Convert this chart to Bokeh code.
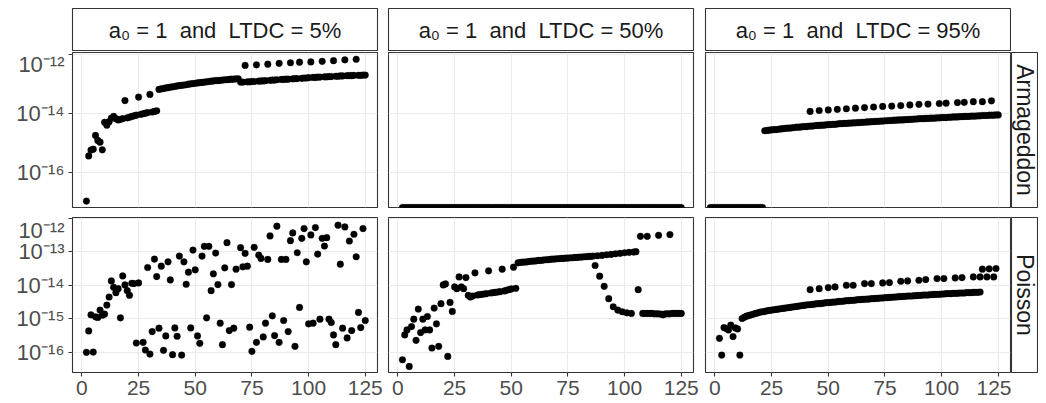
import math
from bokeh.plotting import figure
from bokeh.models import (Range1d, FixedTicker, CustomJSTickFormatter, Grid,
                          LogScale, LogAxis, LinearAxis)
from bokeh.layouts import row, column
from bokeh.embed import file_html
from bokeh.resources import INLINE
from bokeh.core.properties import value

# ---------------------------------------------------------------- labels
col_labels = ["a\u2080 = 1 \u00a0and\u00a0 LTDC = 5%",
              "a\u2080 = 1 \u00a0and\u00a0 LTDC = 50%",
              "a\u2080 = 1 \u00a0and\u00a0 LTDC = 95%"]
row_labels = ["Armageddon", "Poisson"]

x_ticks = [0, 25, 50, 75, 100, 125]
row1_ticks = [1e-16, 1e-14, 1e-12]
row1_tick_labels = ["10\u207b\u00b9\u2076", "10\u207b\u00b9\u2074", "10\u207b\u00b9\u00b2"]
row2_ticks = [1e-16, 1e-15, 1e-14, 1e-13, 1e-12]
row2_tick_labels = ["10\u207b\u00b9\u2076", "10\u207b\u00b9\u2075", "10\u207b\u00b9\u2074",
                    "10\u207b\u00b9\u00b3", "10\u207b\u00b9\u00b2"]

# ---------------------------------------------------------------- data (log10 of the plotted value)
# Armageddon, LTDC 5%  (x = 2..125)
arm_5_x = list(range(2, 126))
arm_5_log10y = [
    -16.99, -15.45, -15.25, -15.22, -14.75, -14.92, -14.98, -15.24, -14.30, -14.40,
    -14.28, -14.16, -14.10, -14.18, -14.22, -14.20, -14.18, -13.56, -14.15, -14.13,
    -14.10, -14.08, -14.06, -13.44, -14.03, -14.01, -13.99, -13.97, -13.35, -13.95,
    -13.93, -13.91, -13.18, -13.16, -13.15, -13.13, -13.12, -13.10, -13.09, -13.08,
    -13.06, -13.05, -13.04, -13.03, -13.02, -13.00, -12.99, -12.98, -12.97, -12.96,
    -12.95, -12.94, -12.93, -12.92, -12.91, -12.90, -12.89, -12.88, -12.88, -12.87,
    -12.86, -12.85, -12.85, -12.84, -12.83, -12.83, -12.82, -12.82, -12.93, -12.93,
    -12.36, -12.92, -12.92, -12.91, -12.91, -12.34, -12.90, -12.89, -12.89, -12.88,
    -12.32, -12.87, -12.86, -12.86, -12.85, -12.29, -12.84, -12.84, -12.83, -12.83,
    -12.27, -12.82, -12.81, -12.81, -12.25, -12.80, -12.79, -12.79, -12.78, -12.24,
    -12.77, -12.77, -12.76, -12.76, -12.22, -12.75, -12.75, -12.74, -12.74, -12.20,
    -12.73, -12.73, -12.72, -12.72, -12.17, -12.71, -12.71, -12.71, -12.70, -12.15,
    -12.70, -12.70, -12.69, -12.69]

# Armageddon, LTDC 50%: every value is 0 (drawn at the panel floor)
arm_50_x = list(range(2, 126))
arm_50_y_is_zero = [True] * len(arm_50_x)

# Armageddon, LTDC 95%
arm_95_zero_x = list(range(-2, 22))
arm_95_x = list(range(22, 126))
arm_95_log10y = [
    -14.59, -14.58, -14.57, -14.56, -14.55, -14.55, -14.54, -14.53, -14.52, -14.51,
    -14.50, -14.50, -14.49, -14.48, -14.47, -14.47, -14.46, -14.45, -14.45, -14.44,
    -14.43, -14.43, -14.42, -14.41, -14.41, -14.40, -14.40, -14.39, -14.38, -14.38,
    -14.37, -14.37, -14.36, -14.35, -14.35, -14.34, -14.34, -14.33, -14.33, -14.32,
    -14.32, -14.31, -14.31, -14.30, -14.30, -14.29, -14.29, -14.28, -14.28, -14.27,
    -14.27, -14.26, -14.26, -14.25, -14.25, -14.24, -14.24, -14.23, -14.23, -14.22,
    -14.22, -14.22, -14.21, -14.21, -14.20, -14.20, -14.19, -14.19, -14.18, -14.18,
    -14.18, -14.17, -14.17, -14.16, -14.16, -14.16, -14.15, -14.15, -14.14, -14.14,
    -14.14, -14.13, -14.13, -14.12, -14.12, -14.12, -14.11, -14.11, -14.10, -14.10,
    -14.10, -14.09, -14.09, -14.09, -14.08, -14.08, -14.07, -14.07, -14.07, -14.06,
    -14.06, -14.06, -14.05, -14.05]
arm_95_upper_x = [42, 46, 50, 54, 58, 62, 66, 70, 74, 78, 82, 86, 90, 94, 99, 102,
                  107, 110, 114, 118, 122]
arm_95_upper_log10y = [-13.93, -13.90, -13.88, -13.86, -13.84, -13.82, -13.80, -13.78,
                       -13.76, -13.75, -13.73, -13.71, -13.69, -13.68, -13.66, -13.65,
                       -13.63, -13.62, -13.60, -13.60, -13.57]

# Poisson, LTDC 5%
poi_5_x = [
    2, 3, 4, 5, 6, 7, 8, 9, 10, 11,
    12, 13, 14, 15, 16, 17, 18, 19, 20, 21,
    22, 23, 24, 25, 27, 28, 29, 30, 31, 32,
    33, 34, 35, 36, 37, 38, 39, 40, 41, 42,
    43, 44, 45, 46, 47, 48, 49, 50, 51, 52,
    53, 54, 55, 56, 57, 58, 59, 60, 61, 62,
    63, 64, 65, 66, 67, 68, 70, 71, 72, 73,
    74, 75, 76, 77, 78, 79, 80, 81, 82, 83,
    84, 85, 86, 87, 88, 89, 90, 91, 92, 93,
    94, 95, 96, 97, 98, 99, 100, 101, 102, 103,
    104, 105, 106, 107, 108, 109, 110, 111, 112, 113,
    114, 115, 116, 117, 118, 119, 120, 121, 122, 123,
    124, 125]
poi_5_log10y = [
    -16.00, -15.36, -14.88, -15.99, -14.94, -14.96, -14.74, -14.89, -14.86, -14.59,
    -14.35, -13.87, -14.06, -14.22, -14.10, -14.97, -13.72, -13.99, -14.16, -14.30,
    -13.94, -13.95, -15.72, -13.93, -15.70, -15.93, -13.47, -16.05, -15.38, -13.22,
    -13.74, -15.28, -13.43, -15.94, -15.51, -13.30, -13.84, -16.07, -15.27, -15.52,
    -13.13, -16.08, -13.30, -13.97, -13.61, -15.27, -12.95, -13.54, -15.51, -15.73,
    -13.13, -12.84, -14.97, -12.84, -14.16, -13.66, -13.04, -13.98, -15.13, -15.77,
    -13.48, -12.73, -15.35, -13.98, -15.28, -13.52, -12.88, -13.45, -13.05, -13.43,
    -15.25, -15.97, -12.87, -15.70, -13.10, -13.20, -15.54, -15.13, -13.23, -12.53,
    -14.91, -15.50, -12.24, -15.70, -13.23, -15.05, -13.23, -15.38, -12.67, -12.44,
    -15.82, -13.03, -14.66, -12.60, -12.31, -13.30, -15.15, -12.50, -15.13, -12.28,
    -13.07, -15.01, -12.60, -12.83, -12.58, -15.01, -15.11, -15.48, -15.77, -12.21,
    -13.37, -15.28, -12.26, -15.57, -12.68, -15.35, -12.48, -13.15, -14.81, -15.26,
    -12.31, -15.05]

# Poisson, LTDC 50%
poi_50_x = list(range(2, 126))
poi_50_log10y = [
    -16.22, -15.48, -15.33, -16.42, -15.23, -15.01, -15.64, -14.71, -15.41, -15.01,
    -15.33, -14.93, -15.33, -15.87, -14.68, -15.15, -15.82, -14.55, -13.99, -13.96,
    -16.12, -14.51, -14.78, -14.05, -14.10, -13.75, -14.05, -14.10, -13.77, -14.30,
    -14.35, -14.32, -13.63, -14.29, -14.28, -14.27, -14.26, -14.25, -13.57, -14.23,
    -14.22, -14.21, -14.20, -14.19, -13.52, -14.17, -14.15, -14.13, -14.11, -13.46,
    -14.09, -13.33, -13.32, -13.31, -13.31, -13.30, -13.29, -13.28, -13.28, -13.27,
    -13.26, -13.26, -13.25, -13.24, -13.24, -13.23, -13.22, -13.22, -13.21, -13.21,
    -13.20, -13.20, -13.19, -13.19, -13.18, -13.18, -13.17, -13.17, -13.16, -13.16,
    -13.15, -13.15, -13.14, -13.14, -13.13, -13.41, -13.12, -13.73, -13.11, -14.03,
    -13.09, -14.40, -13.08, -14.64, -13.06, -14.74, -13.05, -14.79, -13.03, -14.82,
    -13.02, -14.84, -13.01, -13.00, -14.13, -12.54, -14.84, -14.84, -14.84, -14.84,
    -14.84, -14.85, -14.85, -14.85, -14.86, -14.88, -14.85, -14.85, -14.85, -14.84,
    -14.84, -14.84, -14.84, -14.84]
poi_50_upper_x = [110, 115, 120]
poi_50_upper_log10y = [-12.54, -12.51, -12.49]

# Poisson, LTDC 95%
poi_95_early_x = list(range(2, 12))
poi_95_early_log10y = [-15.58, -16.08, -15.26, -15.29, -15.33, -15.19, -15.53, -15.27,
                       -15.30, -16.08]
poi_95_x = list(range(12, 118))
poi_95_log10y = [
    -14.99, -14.95, -14.92, -14.90, -14.88, -14.86, -14.84, -14.82, -14.80, -14.79,
    -14.78, -14.76, -14.75, -14.74, -14.73, -14.72, -14.71, -14.70, -14.69, -14.68,
    -14.67, -14.66, -14.65, -14.64, -14.63, -14.62, -14.61, -14.60, -14.59, -14.58,
    -14.58, -14.57, -14.56, -14.55, -14.55, -14.54, -14.53, -14.52, -14.52, -14.51,
    -14.50, -14.50, -14.49, -14.48, -14.48, -14.47, -14.46, -14.46, -14.45, -14.45,
    -14.44, -14.43, -14.43, -14.42, -14.42, -14.41, -14.41, -14.40, -14.40, -14.39,
    -14.39, -14.38, -14.38, -14.37, -14.37, -14.36, -14.36, -14.35, -14.35, -14.34,
    -14.34, -14.33, -14.33, -14.32, -14.32, -14.32, -14.31, -14.31, -14.30, -14.30,
    -14.29, -14.29, -14.29, -14.28, -14.28, -14.27, -14.27, -14.27, -14.26, -14.26,
    -14.25, -14.25, -14.25, -14.24, -14.24, -14.24, -14.23, -14.23, -14.23, -14.22,
    -14.22, -14.22, -14.21, -14.21, -14.21, -14.20]
poi_95_upper_x = [42, 46, 50, 53, 58, 61, 66, 69, 74, 77, 82, 85, 90, 93, 98, 101,
                  106, 109, 114, 117, 120, 123, 118, 121, 124]
poi_95_upper_log10y = [-14.13, -14.10, -14.07, -14.05, -14.00, -14.00, -13.95, -13.95,
                       -13.93, -13.92, -13.88, -13.87, -13.85, -13.83, -13.80, -13.80,
                       -13.78, -13.77, -13.75, -13.75, -13.75, -13.75, -13.52, -13.51,
                       -13.50]

# ---------------------------------------------------------------- styling / layout
FONT = "Liberation Sans"
BORDER = "#333333"
GRID = "#EBEBEB"
TICK_TEXT = "#4D4D4D"
STRIP_TEXT = "#1A1A1A"

X_LIM = (-4.15, 130.4)
ROW1_LOG_LIM = (-17.21, -11.92)
ROW2_LOG_LIM = (-16.60, -11.98)

COL_W = [383, 316, 312]
COL_MBL = [72, 5, 6]
COL_MBR = [6, 6, 1]
RSTRIP_W = 27

STRIP_H = 51
STRIP_MBT = 8
ROW_H = [166, 186]
ROW_MBT = [1, 0]
ROW_MBB = [10, 31]


def lin(logs):
    return [10.0 ** v for v in logs]


def tick_formatter(tick_vals, tick_texts):
    return CustomJSTickFormatter(args=dict(tvals=tick_vals, ttexts=tick_texts), code="""
        let best = 0, bd = Infinity;
        for (let i = 0; i < tvals.length; i++) {
            const d = Math.abs(Math.log10(tvals[i]) - Math.log10(tick));
            if (d < bd) { bd = d; best = i; }
        }
        return ttexts[best];
    """)


def style_axis(ax, size):
    ax.axis_line_color = None
    ax.major_tick_line_color = BORDER
    ax.major_tick_line_width = 1.1
    ax.major_tick_in = 0
    ax.major_tick_out = 4
    ax.minor_tick_line_color = None
    ax.major_label_text_font = FONT
    ax.major_label_text_font_size = size
    ax.major_label_text_color = TICK_TEXT


def make_panel(ci, ri, series, floor_x=None):
    log_lim = ROW1_LOG_LIM if ri == 0 else ROW2_LOG_LIM
    yticks = row1_ticks if ri == 0 else row2_ticks
    ylabels = row1_tick_labels if ri == 0 else row2_tick_labels
    p = figure(width=COL_W[ci], height=ROW_H[ri],
               x_range=Range1d(*X_LIM),
               y_range=Range1d(10.0 ** log_lim[0], 10.0 ** log_lim[1]),
               x_axis_type=None, y_axis_type=None,
               output_backend="svg", toolbar_location=None,
               min_border_left=COL_MBL[ci], min_border_right=COL_MBR[ci],
               min_border_top=ROW_MBT[ri], min_border_bottom=ROW_MBB[ri])
    p.y_scale = LogScale()
    p.background_fill_color = "white"
    p.border_fill_color = "white"
    p.outline_line_color = BORDER
    p.outline_line_width = 1.1
    p.add_layout(Grid(dimension=0, ticker=FixedTicker(ticks=x_ticks, minor_ticks=[]),
                      grid_line_color=GRID, grid_line_width=1.1))
    p.add_layout(Grid(dimension=1, ticker=FixedTicker(ticks=yticks, minor_ticks=[]),
                      grid_line_color=GRID, grid_line_width=1.1))
    if ci == 0:
        ax = LogAxis(ticker=FixedTicker(ticks=yticks, minor_ticks=[]),
                     formatter=tick_formatter(yticks, ylabels))
        style_axis(ax, "22px")
        ax.major_label_standoff = 4
        p.add_layout(ax, "left")
    if ri == 1:
        ax = LinearAxis(ticker=FixedTicker(ticks=x_ticks, minor_ticks=[]))
        style_axis(ax, "21px")
        ax.major_label_standoff = 4
        p.add_layout(ax, "below")
    for xs, ys in series:
        p.scatter(x=xs, y=ys, size=6.7, fill_color="black", line_color="black",
                  line_width=0.3)
    if floor_x is not None:
        # zero values: on a log axis they sit at the bottom edge of the panel (-Inf)
        p.scatter(x=floor_x, y=[10.0 ** log_lim[0]] * len(floor_x), size=6.7,
                  fill_color="black", line_color="black", line_width=0.3)
    return p


def make_top_strip(ci, label):
    s = figure(width=COL_W[ci], height=STRIP_H, x_range=Range1d(0, 1), y_range=Range1d(0, 1),
               x_axis_type=None, y_axis_type=None, output_backend="svg",
               toolbar_location=None, min_border_left=COL_MBL[ci],
               min_border_right=COL_MBR[ci], min_border_top=STRIP_MBT, min_border_bottom=0)
    s.background_fill_color = "white"
    s.border_fill_color = "white"
    s.outline_line_color = BORDER
    s.outline_line_width = 1.1
    s.text(x=[0.5], y=[0.5], text=[label], text_align="center", text_baseline="middle",
           text_font=value(FONT), text_font_size="22px", text_color=STRIP_TEXT)
    return s


def make_right_strip(ri, label):
    s = figure(width=RSTRIP_W, height=ROW_H[ri], x_range=Range1d(0, 1), y_range=Range1d(0, 1),
               x_axis_type=None, y_axis_type=None, output_backend="svg",
               toolbar_location=None, min_border_left=0, min_border_right=1,
               min_border_top=ROW_MBT[ri], min_border_bottom=ROW_MBB[ri])
    s.background_fill_color = "white"
    s.border_fill_color = "white"
    s.outline_line_color = BORDER
    s.outline_line_width = 1.1
    s.text(x=[0.5], y=[0.5], text=[label], angle=-math.pi / 2, text_align="center",
           text_baseline="middle", text_font=value(FONT), text_font_size="23px",
           text_color=STRIP_TEXT)
    return s


strips = [make_top_strip(i, col_labels[i]) for i in range(3)]

p11 = make_panel(0, 0, [(arm_5_x, lin(arm_5_log10y))])
p12 = make_panel(1, 0, [], floor_x=[x for x, z in zip(arm_50_x, arm_50_y_is_zero) if z])
p13 = make_panel(2, 0, [(arm_95_x, lin(arm_95_log10y)),
                        (arm_95_upper_x, lin(arm_95_upper_log10y))],
                 floor_x=arm_95_zero_x)
p21 = make_panel(0, 1, [(poi_5_x, lin(poi_5_log10y))])
p22 = make_panel(1, 1, [(poi_50_x, lin(poi_50_log10y)),
                        (poi_50_upper_x, lin(poi_50_upper_log10y))])
p23 = make_panel(2, 1, [(poi_95_early_x, lin(poi_95_early_log10y)),
                        (poi_95_x, lin(poi_95_log10y)),
                        (poi_95_upper_x, lin(poi_95_upper_log10y))])

r1 = make_right_strip(0, row_labels[0])
r2 = make_right_strip(1, row_labels[1])

layout = column(row(*strips), row(p11, p12, p13, r1), row(p21, p22, p23, r2))

with open("out.html", "w", encoding="utf-8") as f:
    f.write(file_html(layout, INLINE, title="facets"))
